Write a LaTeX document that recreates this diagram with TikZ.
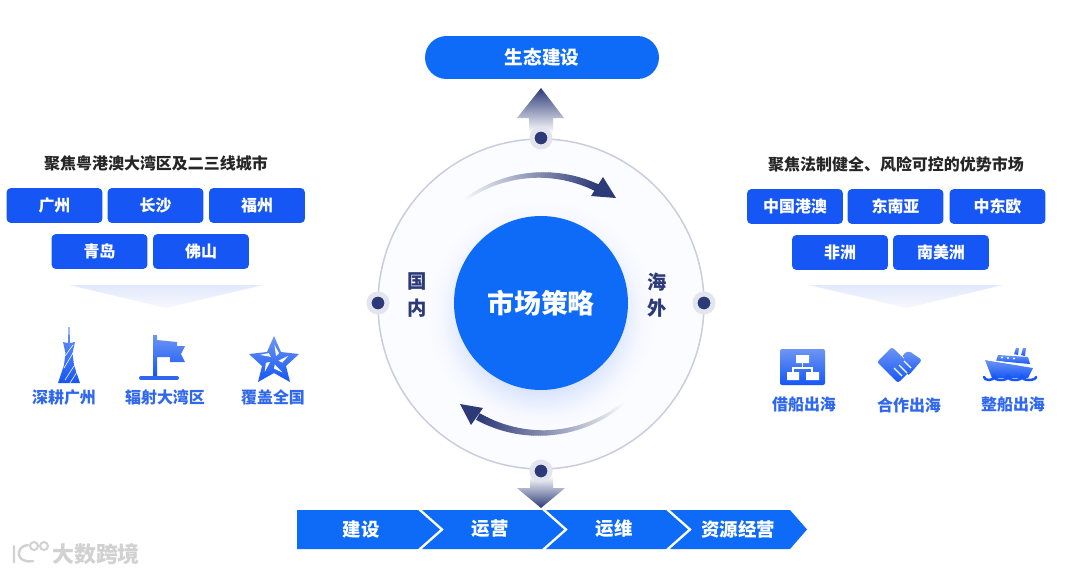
\documentclass[tikz,border=0pt]{standalone}
\usepackage{fontspec}
\setmainfont{Noto Sans CJK SC}
\usetikzlibrary{calc}
\definecolor{cityblue}{HTML}{1556F5}
\definecolor{mainblue}{HTML}{0D6BF7}
\definecolor{iconblue}{HTML}{2F68EE}
\definecolor{navy}{HTML}{2C3A78}
\definecolor{ringgray}{HTML}{C9CDDD}
\definecolor{halogray}{HTML}{E2E5EE}
\definecolor{wedgeblue}{HTML}{E2E9FB}
\definecolor{glowblue}{HTML}{D3DFFB}
\definecolor{ringfill}{HTML}{FBFCFF}
\pgfdeclareradialshading{ringglow}{\pgfpoint{0bp}{0bp}}{color(0bp)=(glowblue); color(14bp)=(glowblue); color(17bp)=(glowblue!55!ringfill); color(20bp)=(glowblue!15!ringfill); color(23bp)=(ringfill); color(50bp)=(ringfill)}
\tikzset{
  citybox/.style={fill=cityblue,text=white,rounded corners=0.09cm,inner sep=0pt,
    minimum width=1.92cm,minimum height=0.7cm,font=\fontsize{9.1}{11}\selectfont\bfseries},
  headline/.style={text=black!85,inner sep=0pt,font=\fontsize{9.1}{11}\selectfont\bfseries},
  iconlabel/.style={text=iconblue,inner sep=0pt,font=\fontsize{9.1}{11}\selectfont\bfseries},
  sidelabel/.style={text=navy,inner sep=0pt,align=center,font=\fontsize{11}{14.9}\selectfont\bfseries},
  steplabel/.style={text=white,inner sep=0pt,font=\fontsize{10.5}{12}\selectfont\bfseries},
  iconfill/.style={top color=iconblue!70!white,bottom color=cityblue,draw=none},
  ringdot/.style={circle,fill=navy,draw=halogray,line width=0.1cm,minimum size=0.36cm,inner sep=0pt},
}
\begin{document}
\begin{tikzpicture}[x=0.02cm,y=-0.02cm]
    \useasboundingbox (0,0) rectangle (1080,575);
    \fill[white] (0,0) rectangle (1080,575);

    % ring
    \draw[ringgray,line width=0.03cm,fill=ringfill] (541,304) ellipse [x radius=163,y radius=165];
    \path[shading=ringglow] (541,315) circle [radius=125];
    \node[circle,fill=mainblue,text=white,minimum size=3.48cm,inner sep=0pt,
      font=\fontsize{15.3}{18}\selectfont\bfseries] (market) at (541,303) {市场策略};
    \node[sidelabel] (home) at (417,295) {国\\内};
    \node[sidelabel] (abroad) at (657,295) {海\\外};

    % arc arrows
    \foreach \a in {128,127,...,65} {
      \pgfmathsetmacro\t{(128-\a)*100/63}
      \pgfmathsetmacro\w{0.05+0.1*(128-\a)/63}
      \draw[navy!\t!white,line width=\w cm] ({541+129*cos(\a)},{304-129*sin(\a)})
        arc [start angle=\a,delta angle=-1.3,radius=129,y radius=-129];
    }
    \fill[navy] (616,198)--(603,177)--(591,196)--cycle;
    \foreach \a in {-48,-49,...,-118} {
      \pgfmathsetmacro\t{(-48-\a)*100/70}
      \pgfmathsetmacro\w{0.05+0.1*(-48-\a)/70}
      \draw[navy!\t!white,line width=\w cm] ({541+129*cos(\a)},{304-129*sin(\a)})
        arc [start angle=\a,delta angle=-1.3,radius=129,y radius=-129];
    }
    \fill[navy] (460,404)--(483,408)--(471,425)--cycle;

    % block arrows
    \shade[top color=navy,bottom color=white]
      (541,88)--(564,118)--(553,118)--(553,133)--(529,133)--(529,118)--(517,118)--cycle;
    \shade[top color=white,bottom color=navy]
      (530,476)--(553,476)--(553,488)--(565,488)--(541,508)--(517,488)--(530,488)--cycle;
    \node[ringdot] (dottop) at (541,138) {};
    \node[ringdot] (dotbottom) at (541,471) {};
    \node[ringdot] (dotleft) at (378,303) {};
    \node[ringdot] (dotright) at (704,303) {};

    \node[fill=mainblue,text=white,rounded corners=0.43cm,minimum width=4.68cm,minimum height=0.86cm,
      inner sep=0pt,font=\fontsize{10.6}{12}\selectfont\bfseries] (ecology) at (542,57.5) {生态建设};

    % chevron band
    \fill[mainblue] (297,510)--(418,510)--(440,529.5)--(418,549)--(297,549)--cycle;
    \foreach \x in {422,546} {
      \fill[mainblue] (\x,510)--(\x+120,510)--(\x+142,529.5)--(\x+120,549)--(\x,549)--(\x+22,529.5)--cycle;
    }
    \fill[mainblue] (670,510)--(790,510)--(807,529.5)--(790,549)--(670,549)--(692,529.5)--cycle;
    \node[steplabel] (build) at (361,529) {建设};
    \node[steplabel] (operate) at (490,529) {运营};
    \node[steplabel] (maintain) at (614,529) {运维};
    \node[steplabel] (resource) at (738,529) {资源经营};

    % left panel
    \node[headline] (lefttitle) at (156,163) {聚焦粤港澳大湾区及二三线城市};
    \foreach \x/\y/\name/\txt in {54.5/205.5/gz/广州,155.5/205.5/cs/长沙,257/205.5/fz/福州,
      99.5/251.5/qd/青岛,201/251.5/fs/佛山} {
      \node[citybox] (\name) at (\x,\y) {\txt};
    }
    \shade[top color=wedgeblue,bottom color=white!70!wedgeblue] (69,285)--(263,285)--(166,308)--cycle;

    \shade[iconfill] (68.5,327)--(69.5,327)--(70,343)--(75,342)--(72.5,353)--(74,365)--(80,383)--(58,383)--(64,365)--(65.5,353)--(63,342)--(68,343)--cycle;
    \draw[white,line width=0.012cm] (65,356)--(73,345) (64,368)--(73,353) (65,380)--(74,366) (70,383)--(77,372);
    \shade[iconfill] (153,335)--(157,335)--(157,340)--(177,342)--(177,346)--(185,346)--(181,354)--(185,362)--(170,362)--(170,357)--(157,357)--(157,376)--(153,376)--cycle;
    \draw[iconblue,line width=0.08cm,line cap=round] (141,378)--(177,378);
    \shade[iconfill] (274,336)--(281,352)--(299,354)--(286,366)--(290,382)--(274,373)--(258,382)--(262,366)--(249,354)--(267,352)--cycle;
    \foreach \a in {0,72,...,288} {
      \fill[white,rotate around={\a:(274,360)}] (274.5,345)--(279,353)--(276,356)--cycle;
    }
    \node[iconlabel] (deep) at (64,397) {深耕广州};
    \node[iconlabel] (radiate) at (165,397) {辐射大湾区};
    \node[iconlabel] (cover) at (273,397) {覆盖全国};

    % right panel
    \node[headline] (righttitle) at (896,164) {聚焦法制健全、风险可控的优势市场};
    \foreach \x/\y/\name/\txt in {795/206.5/hkm/中国港澳,895.5/206.5/sea/东南亚,997.5/206.5/cee/中东欧,
      840/252.5/afr/非洲,941/252.5/sam/南美洲} {
      \node[citybox] (\name) at (\x,\y) {\txt};
    }
    \shade[top color=wedgeblue,bottom color=white!70!wedgeblue] (809,285)--(1003,285)--(907,308)--cycle;

    \shade[iconfill,rounded corners=0.04cm] (780,349) rectangle (825,385);
    \fill[white] (796,355) rectangle (809,363) (787,372) rectangle (799,380) (806,372) rectangle (819,380);
    \draw[white,line width=0.03cm] (802.5,363)--(802.5,368) (793,372)--(793,368)--(812,368)--(812,372);
    \shade[iconfill,rounded corners=0.05cm] (877,362)--(892,347)--(913,368)--(898,383)--cycle;
    \shade[iconfill,rounded corners=0.05cm] (903,354)--(909,351)--(922,360)--(908,376)--cycle;
    \draw[white,line width=0.025cm] (894,368)--(902,376) (899,365)--(907,373) (904,361)--(911,368);
    \shade[iconfill] (1014,354)--(1016,348)--(1019,348)--(1018,355)--cycle;
    \shade[iconfill] (1021,355)--(1023,348)--(1026,348)--(1025,356)--cycle;
    \shade[iconfill] (998,355)--(1028,357)--(1030,364)--(996,361)--cycle;
    \shade[iconfill] (985,360)--(1033,368)--(1028,378)--(992,378)--cycle;
    \draw[white,line width=0.02cm] (988,360)--(1031,366);
    \fill[white] (1002,357.5) circle [radius=1.2] (1008,358) circle [radius=1.2] (1014,358.5) circle [radius=1.2];
    \draw[cityblue,line width=0.05cm,line cap=round] (984,377) arc [start angle=180,delta angle=-180,radius=5,y radius=3]
      arc [start angle=180,delta angle=-180,radius=7,y radius=3] arc [start angle=180,delta angle=-180,radius=7,y radius=3]
      arc [start angle=180,delta angle=-180,radius=7,y radius=3];
    \node[iconlabel] (borrow) at (804,405) {借船出海};
    \node[iconlabel] (partner) at (909,405) {合作出海};
    \node[iconlabel] (whole) at (1013,405) {整船出海};

    % watermark
    \draw[black!18,line width=0.05cm,line cap=round] (14,546)--(14,562) (28,545)..controls (15,546) and (15,564)..(33,561);
    \draw[black!18,line width=0.04cm] (34,546) circle [radius=4] (44,546) circle [radius=4];
    \node[text=black!18,inner sep=0pt,font=\fontsize{12.5}{14}\selectfont\bfseries] (mark) at (96,554) {大数跨境};
  \end{tikzpicture}
\end{document}
